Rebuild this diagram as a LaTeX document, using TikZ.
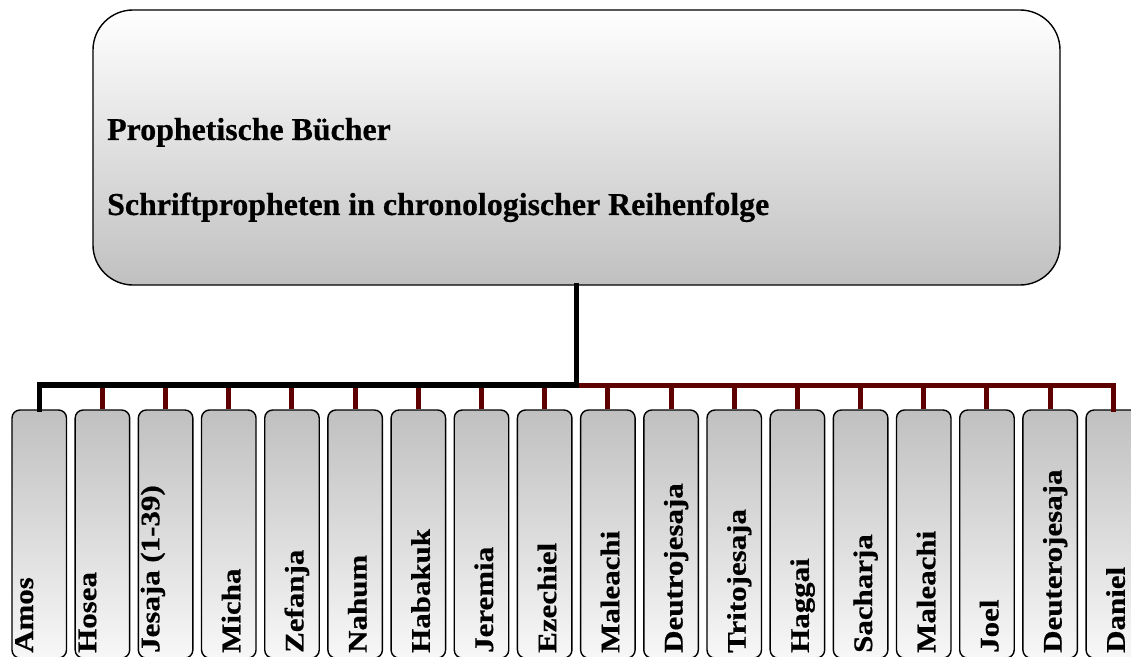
\documentclass[tikz,border=0pt]{standalone}
\usepackage{fontspec}
\setmainfont{Liberation Serif}
\newfontfamily\headfont[BoldFeatures={FakeBold=0.6}]{Liberation Serif}
\newfontfamily\bookfont[FakeStretch=1.15,BoldFeatures={FakeBold=0.6}]{Liberation Serif}
\definecolor{barred}{RGB}{94,0,0}
\definecolor{boxgray}{RGB}{192,192,192}
\begin{document}
\begin{tikzpicture}[x=1bp,y=-1bp,
  rootbox/.style={draw=black,line width=1.4bp,rounded corners=40bp,
    top color=white,bottom color=boxgray,minimum width=967bp,minimum height=275bp,inner sep=0pt},
  bookbox/.style={draw=black,line width=1.4bp,rounded corners=8bp,
    top color=boxgray,bottom color=white!97!black,minimum width=54.5bp,minimum height=248bp,inner sep=0pt},
  titletext/.style={inner sep=0pt,anchor=base west,font=\headfont\fontsize{32}{36}\selectfont\bfseries},
  booktext/.style={inner sep=0pt,anchor=base west,rotate=90,font=\bookfont\fontsize{27}{32}\selectfont\bfseries},
  link/.style={line width=5bp,line cap=rect,line join=miter}]
\useasboundingbox (0,0) rectangle (1131,657);
\clip (0,0) rectangle (1131,657);

% main box with heading
\node[rootbox] (root) at (576.5,147.5) {};
\node[titletext] (t1) at (107,140) {Prophetische Bücher};
\node[titletext] (t2) at (107,215) {Schriftpropheten in chronologischer Reihenfolge};

% the eighteen book boxes; the first three labels sit at the left edge
\foreach \name [count=\i] in {Amos,Hosea,Jesaja (1-39),Micha,Zefanja,Nahum,Habakuk,Jeremia,Ezechiel,Maleachi,Deutrojesaja,Tritojesaja,Haggai,Sacharja,Maleachi,Joel,Deuterojesaja,Daniel}{
  \pgfmathsetmacro{\lx}{12+63.18*(\i-1)}
  \pgfmathsetmacro{\bx}{\i<4 ? \lx+21 : \lx+27.25+11.5}
  \node[bookbox] (c\i) at (\lx+27.25,534) {};
  \node[booktext] (l\i) at (\bx,653) {\name};
}

% connectors
\coordinate (j) at (576.5,385);
\draw[link,barred] (j) -| (c18.north);
\foreach \i in {2,...,17}{
  \draw[link,barred,line cap=butt] (c\i.north) -- (c\i.north |- j);
}
\draw[link,black,line width=5.5bp] (root.south) -- (j) -| (c1.north);
\end{tikzpicture}
\end{document}
